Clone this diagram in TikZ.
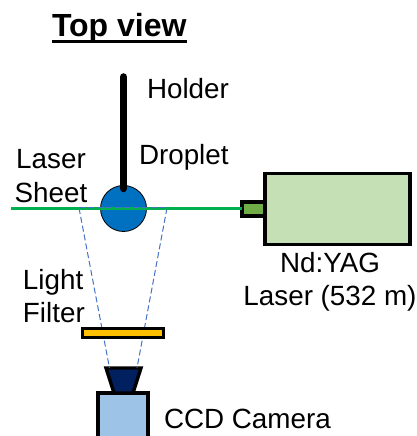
\documentclass[tikz,border=0pt]{standalone}
\usepackage{fontspec}
\setmainfont{Liberation Sans}
\usepackage{xcolor}
\definecolor{mgreen}{HTML}{00B050}
\definecolor{mlaser}{HTML}{C5E0B4}
\definecolor{mhead}{HTML}{70AD47}
\definecolor{mdrop}{HTML}{0070C0}
\definecolor{mfilter}{HTML}{FFC000}
\definecolor{mlens}{HTML}{002060}
\definecolor{mcam}{HTML}{9DC3E6}
\definecolor{mray}{HTML}{4472C4}
\usetikzlibrary{positioning}
\tikzset{
  every node/.style={font=\fontsize{27.8}{33}\selectfont,inner sep=0,outer sep=0},
  label text/.style={align=center},
  box/.style={draw=black,line width=3.8,rectangle},
  ray/.style={mray,line width=1,dash pattern=on 6 off 3},
  beam/.style={mgreen,line width=3}
}
\begin{document}
\begin{tikzpicture}[x=1pt,y=1pt]
  \useasboundingbox (0,0) rectangle (417,436);

  % Laser
  \node[box,fill=mlaser,minimum width=145,minimum height=71] (laser) at (337.5,227) {};
  \node[box,fill=mhead,minimum width=23,minimum height=14] (head) at (253.5,227) {};
  \node[label text,anchor=base] (lasertxt) at (330,130) {Nd:YAG\\Laser (532 m)};

  % Droplet and holder
  \node[circle,draw=black,line width=0.8,fill=mdrop,minimum size=46] (droplet) at (123.5,227.5) {};
  \coordinate (holdertop) at (123.5,359);
  \coordinate (sheetstart) at (11,227);
  \coordinate (rayl) at (79,228);
  \coordinate (rayr) at (167,228);

  % Camera
  \node[box,fill=mcam,minimum width=50,minimum height=60] (camera) at (123,13) {};
  \draw[black,line width=3.4,fill=mlens,line join=miter] (106,68) -- (141,68) -- (133,43) -- (114,43) -- cycle;
  \coordinate (lensl) at (109.5,68);
  \coordinate (lensr) at (137,68);

  % Rays
  \draw[ray] (rayl) -- (lensl);
  \draw[ray] (rayr) -- (lensr);
  \draw[beam] (sheetstart) -- (head);
  \draw[ray] (rayl) -- (rayr);
  \node[draw=black,line width=2.6,fill=mfilter,minimum width=81,minimum height=9] (filter) at (123,103) {};

  % Holder
  \draw[line width=7.5,line cap=round] (holdertop) -- ([yshift=-3]droplet.north);

  % Labels
  \node[anchor=base west] (title) at (52,399) {\fontsize{32}{33}\selectfont\bfseries Top view};
  \draw[line width=3.2] ([yshift=-4.5]title.base west) -- ([yshift=-4.5]title.base east);
  \node[anchor=base west] (holder) at (147,337) {Holder};
  \node[anchor=base west] (dropl) at (139,271) {Droplet};
  \node[anchor=base] (sheet) at (51,233) {Sheet};
  \node[anchor=base] (las) at (51,267) {Laser};
  \node[anchor=base west] (fil) at (23,113) {Filter};
  \node[anchor=base west] (lig) at (23,146) {Light};
  \node[anchor=base west] (cam) at (164,8) {CCD Camera};
\end{tikzpicture}
\end{document}
